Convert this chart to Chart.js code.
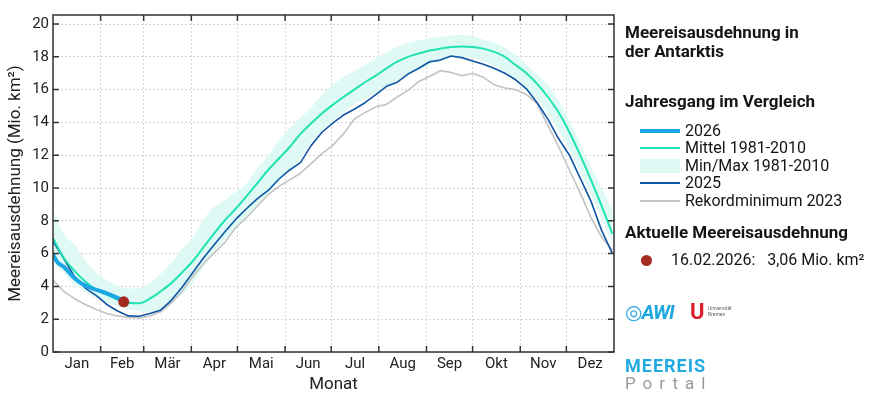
<!DOCTYPE html>
<html>
<head>
<meta charset="utf-8">
<script src="https://cdn.jsdelivr.net/npm/chart.js@4.4.0/dist/chart.umd.min.js"></script>
<style>
  body { margin: 0; background: #fff; font-family: Roboto, 'DejaVu Sans', sans-serif; }
  #wrap { position: relative; width: 878px; height: 396px; }
  #chartBox { position: absolute; left: 0; top: 0; width: 878px; height: 396px; }
  .t { position: absolute; white-space: nowrap; color: #151515; line-height: 1; }
  .h { font-weight: bold; font-size: 17px; }
  .item { font-size: 16px; }
  .sw { position: absolute; left: 640px; width: 40px; }
</style>
</head>
<body>
<div id="wrap">
  <div id="chartBox"><canvas id="iceChart"></canvas></div>

  <div class="t h" style="left:625px; top:24px;">Meereisausdehnung in</div>
  <div class="t h" style="left:625px; top:43px;">der Antarktis</div>

  <div class="t h" style="left:625px; top:93px;">Jahresgang im Vergleich</div>

  <div class="sw" style="top:129px; height:4px; background:#19a6e2;"></div>
  <div class="t item" style="left:685px; top:123px;">2026</div>
  <div class="sw" style="top:147px; height:2px; background:#1fe3b3;"></div>
  <div class="t item" style="left:685px; top:140px;">Mittel 1981-2010</div>
  <div class="sw" style="top:159px; height:14px; background:#dffaf5;"></div>
  <div class="t item" style="left:685px; top:158px;">Min/Max 1981-2010</div>
  <div class="sw" style="top:182px; height:2px; background:#0f56a5;"></div>
  <div class="t item" style="left:685px; top:175px;">2025</div>
  <div class="sw" style="top:200px; height:2px; background:#c2c2c2;"></div>
  <div class="t item" style="left:685px; top:193px;">Rekordminimum 2023</div>

  <div class="t h" style="left:625px; top:224px;">Aktuelle Meereisausdehnung</div>
  <div style="position:absolute; left:641px; top:255px; width:11px; height:11px; border-radius:50%; background:#a52a20;"></div>
  <div class="t item" style="left:671px; top:252px;">16.02.2026:&nbsp;&nbsp;&nbsp;3,06 Mio. km²</div>

  <div class="t" style="left:625px; top:302px; font-size:20px; font-style:italic; font-weight:bold; color:#1fa8e0; letter-spacing:-1px;">◎AWI</div>
  <div class="t" style="left:690px; top:301px; font-size:22px; font-weight:bold; color:#d8202a;">U</div>
  <div class="t" style="left:708px; top:305px; font-size:5px; color:#666; line-height:6px;">Universität<br>Bremen</div>

  <div class="t" style="left:625px; top:357px; font-size:18px; font-weight:bold; color:#21a9e1; letter-spacing:1px;">MEEREIS</div>
  <div class="t" style="left:625px; top:375px; font-size:17px; color:#9a9a9a; letter-spacing:7px;">Portal</div>
</div>

<script>
// day of year (0 = 1. Jan), weekly samples
const days = [0, 7, 14, 21, 28, 35, 42, 49, 56, 63, 70, 77, 84, 91, 98, 105, 112, 119, 126, 133,
  140, 147, 154, 161, 168, 175, 182, 189, 196, 203, 210, 217, 224, 231, 238, 245, 252, 259, 266, 273,
  280, 287, 294, 301, 308, 315, 322, 329, 336, 343, 350, 357, 364];

const mean8110 = [6.93, 5.75, 4.95, 4.3, 3.8, 3.5, 3.2, 3.0, 2.97, 3.25, 3.7, 4.2, 4.85, 5.55, 6.4, 7.25, 8.05, 8.75, 9.5, 10.3,
  11.1, 11.8, 12.5, 13.3, 13.95, 14.55, 15.07, 15.55, 16.0, 16.45, 16.85, 17.3, 17.7, 18.0, 18.2, 18.38, 18.5, 18.6, 18.63, 18.6,
  18.5, 18.3, 18.0, 17.5, 17.0, 16.35, 15.55, 14.6, 13.4, 12.0, 10.5, 8.9, 7.2];

const max8110 = [8.7, 7.2, 6.55, 5.6, 4.85, 4.4, 4.05, 3.87, 3.9, 4.2, 4.75, 5.45, 6.3, 6.95, 8.1, 8.85, 9.3, 9.75, 10.3, 11.2,
  12.0, 12.9, 13.65, 14.3, 14.9, 15.7, 16.3, 16.75, 17.15, 17.5, 17.9, 18.3, 18.6, 18.85, 19.0, 19.15, 19.2, 19.3, 19.35, 19.25,
  19.05, 18.85, 18.55, 18.1, 17.5, 16.9, 16.3, 15.3, 14.1, 12.7, 11.3, 10.0, 8.7];

const min8110 = [5.6, 4.75, 4.1, 3.65, 3.3, 3.0, 2.8, 2.62, 2.48, 2.45, 2.55, 2.95, 3.5, 4.2, 5.2, 6.1, 6.9, 7.6, 8.3, 9.0,
  9.7, 10.4, 11.1, 11.8, 12.8, 13.5, 14.1, 14.6, 15.1, 15.45, 15.8, 16.1, 16.6, 16.95, 17.2, 17.5, 17.8, 17.95, 18.0, 17.95,
  17.75, 17.45, 17.1, 16.6, 16.05, 15.4, 14.5, 13.5, 12.3, 11.0, 9.6, 8.1, 6.6];

const y2025 = [6.75, 5.7, 4.6, 3.9, 3.45, 2.9, 2.5, 2.2, 2.18, 2.35, 2.55, 3.15, 3.95, 4.85, 5.75, 6.55, 7.35, 8.1, 8.75, 9.35,
  9.85, 10.55, 11.1, 11.55, 12.6, 13.4, 13.95, 14.45, 14.8, 15.2, 15.7, 16.2, 16.45, 16.95, 17.3, 17.7, 17.8, 18.05, 17.95, 17.75,
  17.55, 17.3, 17.0, 16.6, 16.05, 15.2, 14.2, 13.0, 12.0, 10.6, 9.2, 7.4, 6.0];

const y2023 = [4.38, 3.7, 3.25, 2.9, 2.6, 2.35, 2.2, 2.1, 2.08, 2.2, 2.45, 3.0, 3.7, 4.6, 5.4, 6.05, 6.7, 7.6, 8.2, 8.9,
  9.6, 10.1, 10.5, 10.9, 11.5, 12.1, 12.6, 13.3, 14.2, 14.6, 14.95, 15.1, 15.55, 15.95, 16.5, 16.8, 17.15, 17.05, 16.85, 17.0,
  16.75, 16.3, 16.1, 16.0, 15.7, 15.15, 13.8, 12.5, 11.1, 9.7, 8.2, 7.0, 6.2];

const days2026 = [0, 3, 7, 14, 21, 28, 35, 42, 46];
const y2026 = [5.95, 5.45, 5.2, 4.5, 4.05, 3.8, 3.58, 3.3, 3.06];

const currentDay = 46;
const currentValue = 3.06;

const monthStarts = [0, 31, 59, 90, 120, 151, 181, 212, 243, 273, 304, 334, 365];
const monthLabels = ['Jan', 'Feb', 'Mär', 'Apr', 'Mai', 'Jun', 'Jul', 'Aug', 'Sep', 'Okt', 'Nov', 'Dez'];
const yTicks = [0, 2, 4, 6, 8, 10, 12, 14, 16, 18, 20];

const monthMids = monthLabels.map((m, i) => (monthStarts[i] + monthStarts[i + 1]) / 2);
const pts = (xs, ys) => xs.map((x, i) => ({ x: x, y: ys[i] }));

// frame around the plot plus inward ticks on all four sides
const framePlugin = {
  id: 'frame',
  afterDatasetsDraw(chart) {
    const { ctx, chartArea: a, scales } = chart;
    ctx.save();
    ctx.strokeStyle = '#333';
    ctx.lineWidth = 1.5;
    ctx.strokeRect(a.left, a.top, a.right - a.left, a.bottom - a.top);
    ctx.beginPath();
    monthStarts.slice(1, -1).forEach(d => {
      const x = scales.x.getPixelForValue(d);
      ctx.moveTo(x, a.bottom); ctx.lineTo(x, a.bottom - 6);
      ctx.moveTo(x, a.top); ctx.lineTo(x, a.top + 6);
    });
    yTicks.forEach(v => {
      const y = scales.y.getPixelForValue(v);
      ctx.moveTo(a.left, y); ctx.lineTo(a.left + 6, y);
      ctx.moveTo(a.right, y); ctx.lineTo(a.right - 6, y);
    });
    ctx.stroke();
    ctx.restore();
  }
};

const lineDefaults = { pointRadius: 0, fill: false, borderJoinStyle: 'round' };

new Chart(document.getElementById('iceChart'), {
  type: 'line',
  data: {
    datasets: [
      { label: 'Aktuell', data: [{ x: currentDay, y: currentValue }], showLine: false,
        pointRadius: 5.5, pointBackgroundColor: '#a52a20', pointBorderWidth: 0, order: 0 },
      { ...lineDefaults, label: '2026', data: pts(days2026, y2026), borderColor: '#19a6e2',
        borderWidth: 4, tension: 0.3, order: 1 },
      { ...lineDefaults, label: 'Mittel 1981-2010', data: pts(days, mean8110), borderColor: '#1fe3b3',
        borderWidth: 2, cubicInterpolationMode: 'monotone', order: 2 },
      { ...lineDefaults, label: '2025', data: pts(days, y2025), borderColor: '#0f56a5',
        borderWidth: 1.6, tension: 0, order: 3 },
      { ...lineDefaults, label: 'Rekordminimum 2023', data: pts(days, y2023), borderColor: '#c2c2c2',
        borderWidth: 1.6, tension: 0, order: 4 },
      { ...lineDefaults, label: 'Max', data: pts(days, max8110), borderWidth: 0, borderColor: 'transparent',
        backgroundColor: '#dffaf5', fill: '+1', cubicInterpolationMode: 'monotone', order: 5 },
      { ...lineDefaults, label: 'Min', data: pts(days, min8110), borderWidth: 0, borderColor: 'transparent',
        cubicInterpolationMode: 'monotone', order: 6 }
    ]
  },
  options: {
    responsive: true,
    maintainAspectRatio: false,
    animation: false,
    layout: { padding: { top: 15, right: 264, bottom: 0, left: 0 } },
    plugins: { legend: { display: false }, tooltip: { enabled: false } },
    scales: {
      x: {
        type: 'linear',
        min: 0,
        max: 365,
        afterBuildTicks: scale => {
          scale.ticks = monthStarts.concat(monthMids).sort((a, b) => a - b).map(v => ({ value: v }));
        },
        afterFit: scale => { scale.height = 44; },
        ticks: {
          autoSkip: false,
          maxRotation: 0,
          padding: 3,
          color: '#222',
          font: { family: 'Roboto', size: 15 },
          callback: v => {
            const i = monthMids.indexOf(v);
            return i >= 0 ? monthLabels[i] : '';
          }
        },
        grid: {
          drawTicks: false,
          color: c => monthMids.includes(c.tick.value) ? 'rgba(0,0,0,0)' : '#d4d4d4',
          lineWidth: 1
        },
        border: { display: false, dash: [2, 2] },
        title: { display: true, text: 'Monat', color: '#222', font: { family: 'Roboto', size: 17 },
          padding: { top: 0, bottom: 1 } }
      },
      y: {
        min: 0,
        max: 20.55,
        afterBuildTicks: scale => { scale.ticks = yTicks.map(v => ({ value: v })); },
        afterFit: scale => { scale.width = 53; },
        ticks: { padding: 4, color: '#222', font: { family: 'Roboto', size: 15 } },
        grid: { drawTicks: false, color: '#d4d4d4', lineWidth: 1 },
        border: { display: false, dash: [2, 2] },
        title: { display: true, text: 'Meereisausdehnung (Mio. km²)', color: '#222',
          font: { family: 'Roboto', size: 17 }, padding: { top: 6, bottom: 0 } }
      }
    }
  },
  plugins: [framePlugin]
});
</script>
</body>
</html>
